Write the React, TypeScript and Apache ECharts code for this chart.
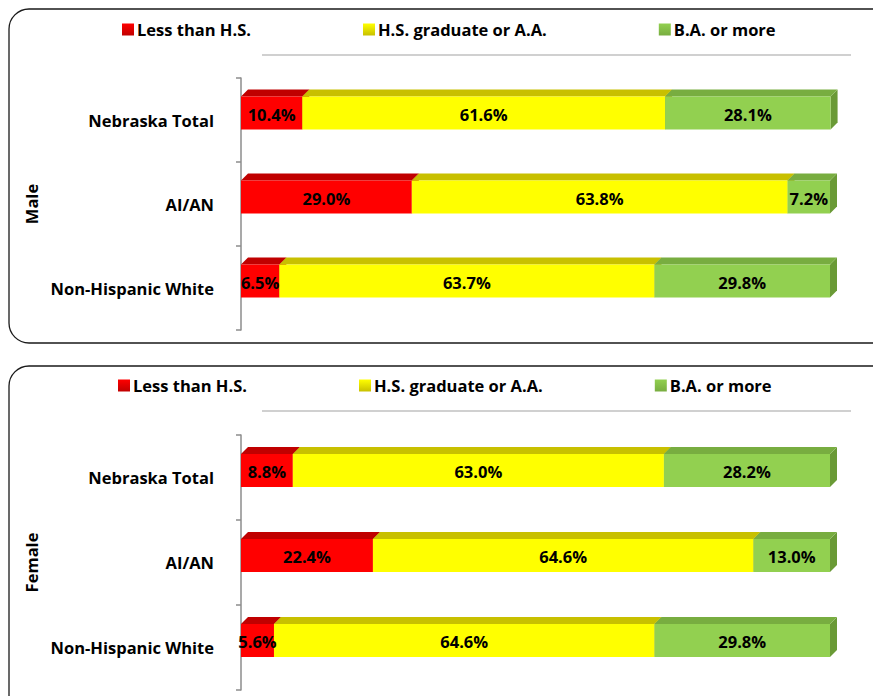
import React, { useEffect, useRef } from "react";
import * as echarts from "echarts";

const categories = ["Nebraska Total", "AI/AN", "Non-Hispanic White"];
const seriesNames = ["Less than H.S.", "H.S. graduate or A.A.", "B.A. or more"];
const maleLessHS = [10.4, 29.0, 6.5];
const maleHSGrad = [61.6, 63.8, 63.7];
const maleBA = [28.1, 7.2, 29.8];
const femaleLessHS = [8.8, 22.4, 5.6];
const femaleHSGrad = [63.0, 64.6, 64.6];
const femaleBA = [28.2, 13.0, 29.8];

const FRONT = ["#FF0000", "#FFFF00", "#92D050"];
const TOP = ["#C00000", "#C8C000", "#78AD40"];
const SIDE = ["#A00000", "#B0A800", "#6A9A36"];
const FONT = "Open Sans";
const FS = 16.5;

function buildData(groups: number[][]) {
  const out: number[][][] = groups.map(() => []);
  for (let c = 0; c < categories.length; c++) {
    let acc = 0;
    groups.forEach((g, s) => {
      out[s].push([c, acc, acc + g[c], g[c]]);
      acc += g[c];
    });
  }
  return out;
}

function makeRender(seg: number) {
  return (params: any, api: any) => {
    const cat = api.value(0);
    const start = api.value(1);
    const end = api.value(2);
    const value = api.value(3);
    const p0 = api.coord([start, cat]);
    const p1 = api.coord([end, cat]);
    const h = 33;
    const d = 7;
    const cy = p0[1] - 7;
    const yt = cy - h / 2;
    const yb = cy + h / 2;
    const x0 = p0[0];
    const x1 = p1[0];
    return {
      type: "group",
      children: [
        {
          type: "polygon",
          shape: { points: [[x1, yt], [x1 + d, yt - d], [x1 + d, yb - d], [x1, yb]] },
          style: { fill: SIDE[seg] },
        },
        {
          type: "polygon",
          shape: { points: [[x0, yt], [x0 + d, yt - d], [x1 + d, yt - d], [x1, yt]] },
          style: { fill: TOP[seg] },
        },
        {
          type: "rect",
          shape: { x: x0, y: yt, width: x1 - x0, height: h },
          style: { fill: FRONT[seg] },
        },
        {
          type: "text",
          z2: 100,
          style: {
            text: value.toFixed(1) + "%",
            x: (x0 + x1) / 2,
            y: cy + 1,
            align: "center",
            verticalAlign: "middle",
            fontSize: FS,
            fontWeight: "bold",
            fontFamily: FONT,
            fill: "#000",
          },
        },
      ],
    };
  };
}

export default function App() {
  const ref = useRef<HTMLDivElement>(null);
  useEffect(() => {
    const chart = echarts.init(ref.current!, null, { renderer: "svg" });
    const male = buildData([maleLessHS, maleHSGrad, maleBA]);
    const female = buildData([femaleLessHS, femaleHSGrad, femaleBA]);
    const series: any[] = [];
    [male, female].forEach((grp, gi) => {
      grp.forEach((data, s) => {
        series.push({
          type: "custom",
          name: seriesNames[s],
          xAxisIndex: gi,
          yAxisIndex: gi,
          itemStyle: { color: FRONT[s] },
          renderItem: makeRender(s),
          encode: { x: [1, 2], y: 0 },
          data,
        });
      });
    });
    const yAxisBase = (name: string, gi: number) => ({
      type: "category",
      gridIndex: gi,
      data: categories,
      inverse: true,
      offset: 9,
      name,
      nameLocation: "middle",
      nameGap: 184,
      nameRotate: 90,
      nameTextStyle: { fontSize: FS, fontWeight: "bold", fontFamily: FONT, color: "#000" },
      axisLine: { show: true, lineStyle: { color: "#8c8c8c", width: 1.5 } },
      axisTick: { show: true, length: 5, lineStyle: { color: "#8c8c8c", width: 1.5 } },
      axisLabel: { margin: 18, fontSize: FS, fontWeight: "bold", fontFamily: FONT, color: "#000" },
      splitLine: { show: false },
    });
    const legendData = seriesNames.map((n, i) => ({
      name: n,
      itemStyle: {
        color: new echarts.graphic.LinearGradient(0, 0, 0, 1, [
          { offset: 0, color: FRONT[i] },
          { offset: 1, color: TOP[i] },
        ]),
      },
    }));
    const legendBase = (top: number, left: number) => ({
      top,
      left,
      padding: 0,
      itemGap: 112,
      itemWidth: 12,
      itemHeight: 12,
      icon: "rect",
      data: legendData,
      selectedMode: false,
      textStyle: { fontSize: FS, fontWeight: "bold", fontFamily: FONT, color: "#000", padding: [0, 0, 0, -2] },
    });
    chart.setOption({
      animation: false,
      backgroundColor: "#fff",
      legend: [legendBase(21, 122), legendBase(377, 118)],
      grid: [
        { left: 241, top: 78, width: 589, height: 252 },
        { left: 241, top: 435, width: 589, height: 255 },
      ],
      xAxis: [
        { type: "value", gridIndex: 0, min: 0, max: 100, show: false },
        { type: "value", gridIndex: 1, min: 0, max: 100, show: false },
      ],
      yAxis: [yAxisBase("Male", 0), yAxisBase("Female", 1)],
      graphic: [
        {
          type: "rect",
          shape: { x: 9, y: 9, width: 900, height: 334, r: 20 },
          style: { fill: "none", stroke: "#1a1a1a", lineWidth: 1.3 },
          z: -1,
        },
        {
          type: "rect",
          shape: { x: 9, y: 366, width: 900, height: 360, r: 20 },
          style: { fill: "none", stroke: "#1a1a1a", lineWidth: 1.3 },
          z: -1,
        },
        {
          type: "line",
          shape: { x1: 262, y1: 55, x2: 851, y2: 55 },
          style: { stroke: "#c0c0c0", lineWidth: 1.3 },
        },
        {
          type: "line",
          shape: { x1: 262, y1: 411, x2: 851, y2: 411 },
          style: { stroke: "#c0c0c0", lineWidth: 1.3 },
        },
      ],
      series,
    });
    return () => chart.dispose();
  }, []);
  return (
    <div
      ref={ref}
      style={{ position: "fixed", left: 0, top: 0, width: 873, height: 696, background: "#fff" }}
    />
  );
}
